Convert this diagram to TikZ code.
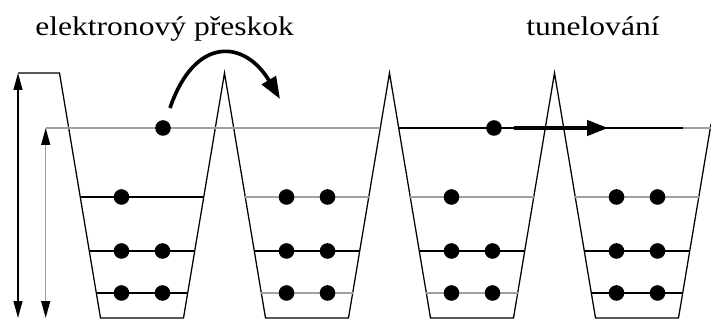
\documentclass[tikz,border=0pt]{standalone}
\usepackage{fontspec}
\setmainfont{Liberation Serif}
\newfontfamily\labelfont[FakeStretch=1.17]{Liberation Serif}
\usetikzlibrary{arrows.meta,calc}
\definecolor{levelgray}{RGB}{160,160,160}
\tikzset{
  electron/.style={circle,fill=black,inner sep=0pt,minimum size=3.9mm},
  wallline/.style={black,line width=0.9pt},
  level/.style={line width=1.1pt},
  jumparrow/.style={-{Triangle[length=5.5mm,width=4mm]},line width=2.6pt},
  tunarrow/.style={-{Triangle[length=5.2mm,width=3.8mm]},line width=2.4pt},
  gaparrow/.style={{Triangle[length=4.2mm,width=2.2mm,color=black]}-{Triangle[length=4.2mm,width=2.2mm,color=black]},line width=1.1pt},
  labeltext/.style={anchor=base west,inner sep=0pt,font=\labelfont\fontsize{19.2}{23}\selectfont},
}

\begin{document}
\begin{tikzpicture}[x=0.25cm,y=0.25cm]
\useasboundingbox (0,0) rectangle (71.1,32);
% potential wells
\coordinate (vtop) at (1.8,24.7);
\coordinate (vbot) at (1.8,0.2);
\coordinate (itop) at (4.57,19.2);
\coordinate (ibot) at (4.57,0.2);
\draw[wallline] (vtop) -- (5.95,24.7) -- (10.05,0.2) -- (18.35,0.2)
  -- (22.45,24.7) -- (26.55,0.2) -- (34.85,0.2) -- (38.95,24.7)
  -- (43.05,0.2) -- (51.35,0.2) -- (55.45,24.7) -- (59.55,0.2)
  -- (67.85,0.2) -- (71.1,19.6);
% energy levels
\foreach \c/\ca/\cb in {14.2/black/black,30.7/levelgray/levelgray,
                        47.2/levelgray/levelgray,63.7/levelgray/black}{
  \draw[level,\ca] (\c-6.17,12.3) -- (\c+6.17,12.3);
  \draw[level,black] (\c-5.27,6.9) -- (\c+5.27,6.9);
  \draw[level,\cb] (\c-4.57,2.7) -- (\c+4.57,2.7);}
\draw[level,levelgray] (itop) -- (38.03,19.2);
\draw[level,black] (39.87,19.2) -- (68.3,19.2);
\draw[level,levelgray] (68.3,19.2) -- (71.1,19.2);
% electrons
\foreach \c [count=\i] in {14.2,30.7,47.2,63.7}{
  \node[electron] (low\i a) at (\c-2.05,2.7) {};
  \node[electron] (low\i b) at (\c+2.05,2.7) {};
  \node[electron] (mid\i a) at (\c-2.05,6.9) {};
  \node[electron] (mid\i b) at (\c+2.05,6.9) {};
  \node[electron] (up\i a) at (\c-2.05,12.3) {};}
\node[electron] (up2b) at (32.75,12.3) {};
\node[electron] (up4b) at (65.75,12.3) {};
\node[electron] (hop) at (16.3,19.2) {};
\node[electron] (tun) at (49.4,19.2) {};
% arrows
\draw[gaparrow] (vtop) -- (vbot);
\draw[gaparrow,levelgray] (itop) -- (ibot);
\coordinate (hopend) at (28.0,22.1);
\draw[jumparrow] ([shift={(0.7,2.0)}]hop.center) .. controls +(2.5,7.3)
  and +(-3.5,5.9) .. (hopend);
\coordinate (tunend) at (60.8,19.2);
\draw[tunarrow] ([xshift=2.9mm]tun.east) -- (tunend);
% labels
\node[labeltext] (hoplabel) at (3.5,28.4) {elektronový přeskok};
\node[labeltext] (tunlabel) at (52.6,28.4) {tunelování};
\end{tikzpicture}
\end{document}
